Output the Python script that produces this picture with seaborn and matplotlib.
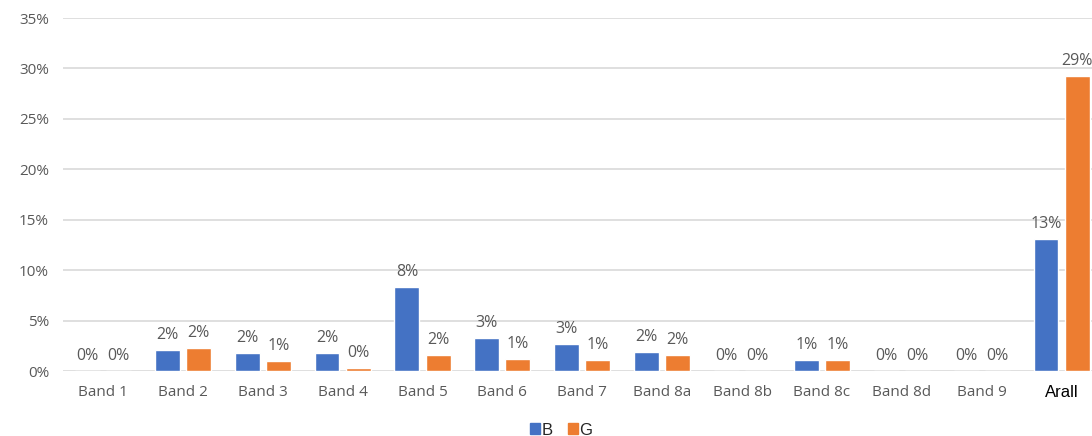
import matplotlib
matplotlib.use("Agg")
import matplotlib.pyplot as plt
import seaborn as sns
import pandas as pd

# Share of pixels per band (percent)
bands = ["Band 1", "Band 2", "Band 3", "Band 4", "Band 5", "Band 6", "Band 7",
         "Band 8a", "Band 8b", "Band 8c", "Band 8d", "Band 9", "Arall"]
b_values = [0.0, 2.1, 1.8, 1.8, 8.3, 3.3, 2.7, 1.9, 0.0, 1.1, 0.0, 0.0, 13.1]
g_values = [0.0, 2.3, 1.0, 0.3, 1.6, 1.2, 1.1, 1.6, 0.0, 1.1, 0.0, 0.0, 29.3]
series_names = ["B", "G"]
y_ticks = [0, 5, 10, 15, 20, 25, 30, 35]

palette = {"B": "#4472C4", "G": "#ED7D31"}
grey_text = "#595959"

df = pd.DataFrame({
    "band": bands * 2,
    "value": b_values + g_values,
    "series": [series_names[0]] * len(bands) + [series_names[1]] * len(bands),
})

sns.set_theme(style="white")
plt.rcParams["font.family"] = ["Open Sans", "DejaVu Sans"]

fig = plt.figure(figsize=(10.92, 4.36), dpi=100)
ax = fig.add_axes([0.0577, 0.149, 0.951, 0.8096])

sns.barplot(data=df, x="band", y="value", hue="series", order=bands,
            hue_order=series_names, palette=palette, width=0.78, gap=0.2,
            saturation=1, legend=False, ax=ax)

ax.set_ylim(0, 35)
ax.set_yticks(y_ticks)
ax.set_yticklabels([f"{t}%" for t in y_ticks])
ax.yaxis.grid(True, color="#D9D9D9", linewidth=1.2)
ax.set_axisbelow(True)
for s in ax.spines.values():
    s.set_visible(False)
ax.set_xlabel("")
ax.set_ylabel("")
ax.tick_params(axis="y", length=0, pad=10, labelsize=11, labelcolor=grey_text)
ax.tick_params(axis="x", length=0, pad=10, labelsize=11, labelcolor=grey_text)

# Last category label uses a plain sans face in black
xt = ax.get_xticklabels()
xt[-1].set_family(["Liberation Sans", "DejaVu Sans"])
xt[-1].set_color("black")
xt[-1].set_fontsize(12)

for cont, vals in zip(ax.containers, [b_values, g_values]):
    ax.bar_label(cont, labels=[f"{v:.0f}%" for v in vals], padding=5,
                 fontsize=11.5, color=grey_text)

handles = [plt.Rectangle((0, 0), 1, 1, color=palette[n]) for n in series_names]
fig.legend(handles, series_names, loc="center", bbox_to_anchor=(561 / 1092, 1 - 430 / 436),
           ncol=2, frameon=False, handlelength=0.6, handleheight=0.6,
           handletextpad=0.1, columnspacing=0.9,
           prop={"family": ["Liberation Sans", "DejaVu Sans"], "size": 12})

fig.savefig("out.png", dpi=100)
